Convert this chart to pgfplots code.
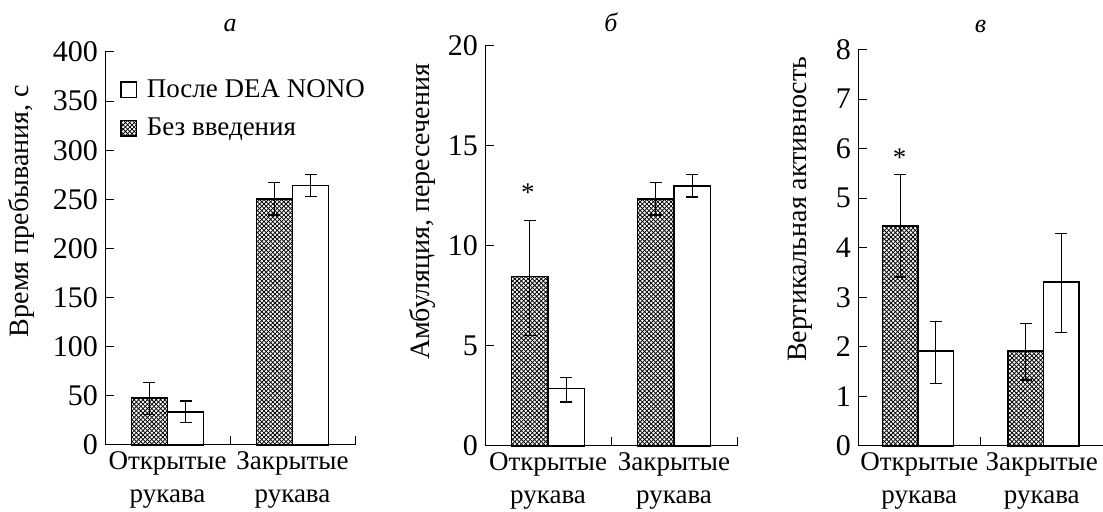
\documentclass[border=0pt]{standalone}
\usepackage{fontspec}
\setmainfont{Liberation Serif}
\usepackage{pgfplots}
\pgfplotsset{compat=1.18}
\usetikzlibrary{patterns}

\pgfdeclarepatternformonly{diagcross}{\pgfqpoint{-0.5pt}{-0.5pt}}{\pgfqpoint{2.7pt}{2.7pt}}{\pgfqpoint{2.2pt}{2.2pt}}{%
  \pgfsetlinewidth{0.38pt}%
  \pgfpathmoveto{\pgfqpoint{-0.1pt}{-0.1pt}}\pgfpathlineto{\pgfqpoint{2.3pt}{2.3pt}}%
  \pgfpathmoveto{\pgfqpoint{-0.1pt}{2.3pt}}\pgfpathlineto{\pgfqpoint{2.3pt}{-0.1pt}}%
  \pgfusepath{stroke}}

\newcommand{\lblfont}{\fontsize{13.5}{16.5}\selectfont}
\newcommand{\numfont}{\fontsize{15}{16}\selectfont}

\pgfplotsset{
  panel/.style={
    scale only axis, anchor=south west, clip=false,
    axis lines=left, axis line style={-, line width=0.5pt},
    xmin=0, xmax=2, ymin=0,
    xtick={1,2}, xticklabels={},
    extra x ticks={0.5,1.5},
    extra x tick labels={{Открытые\\рукава},{Закрытые\\рукава}},
    extra x tick style={major tick length=0pt, xticklabel style={align=center, font=\lblfont}},
    tick align=inside, major tick length=4.5pt,
    tick style={black, line width=0.5pt},
    minor tick num=0,
    yticklabel style={font=\numfont},
    /pgf/number format/assume math mode=true,
    title style={anchor=base, font=\fontsize{13}{14}\selectfont\itshape},
    ylabel style={anchor=center, font=\fontsize{14}{16}\selectfont},
  },
  hbar/.style={ybar, bar width=0.29, bar shift=0pt, draw=black, line width=0.7pt,
    pattern=diagcross,
    error bars/.cd, y dir=both, y explicit,
    error bar style={line width=0.6pt, black},
    error mark options={rotate=90, line width=0.6pt, mark size=3pt, black},
    /pgfplots/.cd},
  wbar/.style={ybar, bar width=0.29, bar shift=0pt, draw=black, line width=0.7pt,
    fill=white,
    error bars/.cd, y dir=both, y explicit,
    error bar style={line width=0.6pt, black},
    error mark options={rotate=90, line width=0.6pt, mark size=3pt, black},
    /pgfplots/.cd},
}

\begin{document}
\begin{tikzpicture}
\useasboundingbox (0,0) rectangle (551.5pt,256pt);

% panel a
\begin{axis}[panel, at={(52.5pt,33.5pt)}, width=125pt, height=196.5pt,
  ymax=400, ytick={0,50,...,400},
  title={а}, title style={at={(axis description cs:0.5,1)}, yshift=4pt},
  ylabel={Время пребывания, с},
  ylabel style={at={(axis description cs:-0.335,0.595)}},
  legend style={draw=none, fill=none, at={(axis description cs:0.06,0.942)}, anchor=north west,
    font=\lblfont, row sep=5pt, inner sep=0pt,
    legend cell align=left,
    nodes={inner xsep=5pt}},
  legend image code/.code={\draw[#1] (0pt,-3.8pt) rectangle (7.6pt,3.8pt);},
]
\addplot[forget plot, hbar] coordinates {(0.355,48) += (0,15.3) -= (0,17.3) (1.355,250.5) += (0,17) -= (0,16.5)};
\addplot[forget plot, wbar] coordinates {(0.645,33.5) += (0,11.3) -= (0,10.8) (1.645,264) += (0,11.5) -= (0,11.3)};
\addlegendimage{draw=black, fill=white, line width=0.6pt}
\addlegendentry{После DEA NONO}
\addlegendimage{draw=black, pattern=diagcross, line width=0.6pt}
\addlegendentry{Без введения}
\end{axis}

% panel b
\begin{axis}[panel, at={(242.5pt,33pt)}, width=126pt, height=200pt,
  ymax=20, ytick={0,5,...,20},
  title={б}, title style={at={(axis description cs:0.5,1)}, yshift=1pt},
  ylabel={Амбуляция, пересечения},
  ylabel style={at={(axis description cs:-0.25,0.585)}},
]
\addplot[hbar] coordinates {(0.355,8.48) += (0,2.8) -= (0,2.95) (1.355,12.35) += (0,0.82) -= (0,0.8)};
\addplot[wbar] coordinates {(0.645,2.87) += (0,0.55) -= (0,0.67) (1.645,13.0) += (0,0.57) -= (0,0.55)};
\node[anchor=base, font=\lblfont] at (axis cs:0.34,12.2) {*};
\end{axis}

% panel c
\begin{axis}[panel, at={(429pt,33pt)}, width=122.5pt, height=198.2pt,
  ymax=8, ytick={0,1,...,8},
  title={в}, title style={at={(axis description cs:0.5,1)}, yshift=2.5pt},
  ylabel={Вертикальная активность},
  ylabel style={at={(axis description cs:-0.237,0.597)}},
]
\addplot[hbar] coordinates {(0.345,4.44) += (0,1.04) -= (0,1.03) (1.37,1.92) += (0,0.55) -= (0,0.59)};
\addplot[wbar] coordinates {(0.635,1.92) += (0,0.6) -= (0,0.66) (1.66,3.31) += (0,0.98) -= (0,1.02)};
\node[anchor=base, font=\lblfont] at (axis cs:0.34,5.65) {*};
\end{axis}
\end{tikzpicture}
\end{document}
